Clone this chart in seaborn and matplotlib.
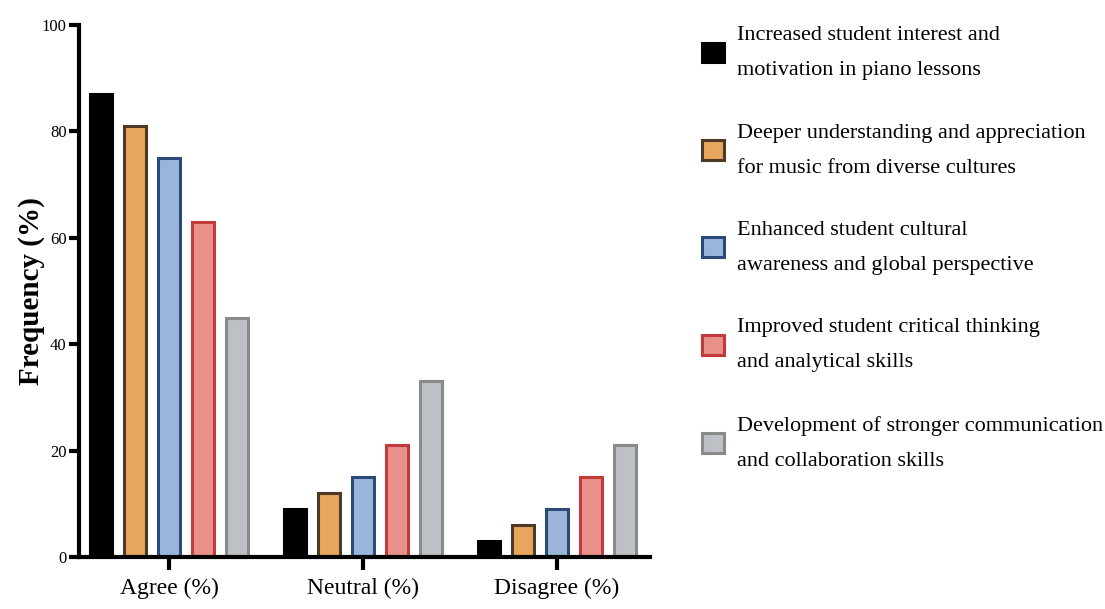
import matplotlib
matplotlib.use("Agg")
import matplotlib.pyplot as plt
import seaborn as sns
import pandas as pd

categories = ["Agree (%)", "Neutral (%)", "Disagree (%)"]
series = [
    "Increased student interest and\nmotivation in piano lessons",
    "Deeper understanding and appreciation\nfor music from diverse cultures",
    "Enhanced student cultural\nawareness and global perspective",
    "Improved student critical thinking\nand analytical skills",
    "Development of stronger communication\nand collaboration skills",
]
agree = [87, 81, 75, 63, 45]
neutral = [9, 12, 15, 21, 33]
disagree = [3, 6, 9, 15, 21]

fills = ["#000000", "#E8A55C", "#9AB5D9", "#E8918A", "#BDC0C4"]
edges = ["#000000", "#4B3B26", "#2B4A78", "#C23A3A", "#8A8A8A"]

rows = []
for cat, vals in zip(categories, [agree, neutral, disagree]):
    for s, v in zip(series, vals):
        rows.append({"Category": cat, "Series": s, "Value": v})
df = pd.DataFrame(rows)

sns.set_theme(style="ticks")
plt.rcParams["font.family"] = ["Liberation Serif", "DejaVu Serif"]
plt.rcParams["text.color"] = "black"
plt.rcParams["axes.labelcolor"] = "black"
plt.rcParams["xtick.color"] = "black"
plt.rcParams["ytick.color"] = "black"

fig = plt.figure(figsize=(11.05, 6.09), dpi=100)
ax = fig.add_axes([0.0715, 0.0854, 0.5165, 0.8736])

sns.barplot(data=df, x="Category", y="Value", hue="Series", order=categories,
            hue_order=series, palette=fills, width=0.876, gap=0.35,
            ax=ax, legend=True, saturation=1)

for i, container in enumerate(ax.containers):
    for patch in container:
        patch.set_edgecolor(edges[i])
        patch.set_linewidth(2.2)

ax.set_xlim(-0.465, 2.48)
ax.set_ylim(0, 100)
ax.set_yticks([0, 20, 40, 60, 80, 100])
ax.set_xlabel("")
ax.set_ylabel("Frequency (%)", fontsize=21, fontweight="bold")
ax.yaxis.set_label_coords(-0.06, 0.5)
for sp in ["top", "right"]:
    ax.spines[sp].set_visible(False)
for sp in ["left", "bottom"]:
    ax.spines[sp].set_linewidth(3)
    ax.spines[sp].set_color("black")
ax.tick_params(axis="y", length=7, width=3, labelsize=12, pad=2)
ax.tick_params(axis="x", length=9, width=3, labelsize=17, pad=6)

handles, labels = ax.get_legend_handles_labels()
ax.get_legend().remove()
for h, e in zip(handles, edges):
    h.set_edgecolor(e)
    h.set_linewidth(2.2)
leg = fig.legend(handles, labels, loc="upper left", bbox_to_anchor=(0.617, 0.99),
                 frameon=False, fontsize=16, labelspacing=1.95, handlelength=1.0,
                 handleheight=1.0, handletextpad=0.6)
for t in leg.get_texts():
    t.set_linespacing(2.15)

fig.savefig("out.png", dpi=100)
